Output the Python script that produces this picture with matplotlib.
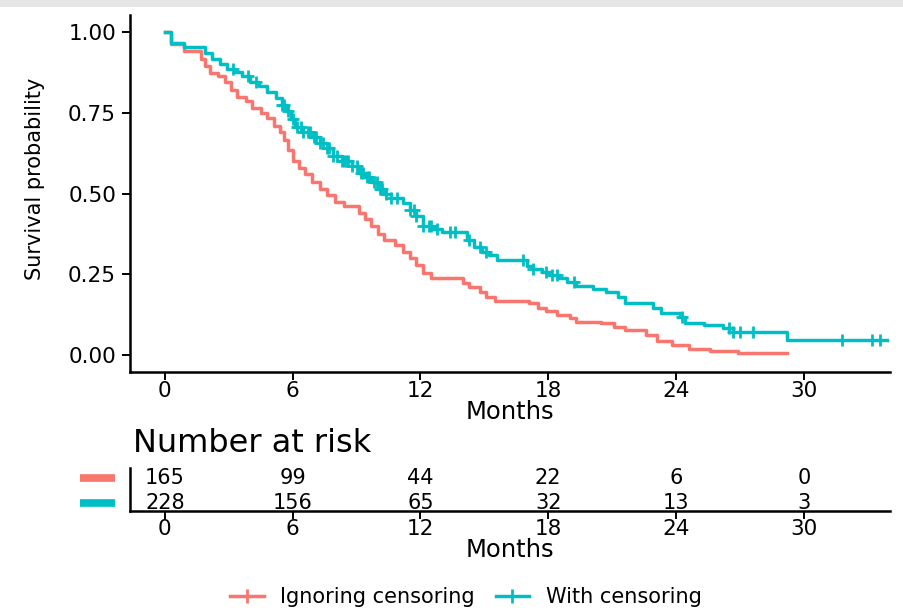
import numpy as np
import matplotlib
matplotlib.use("Agg")
import matplotlib.pyplot as plt
from matplotlib.lines import Line2D
from matplotlib.patches import Rectangle

plt.rcParams['font.family'] = ['DejaVu Sans']

# ---------------- data ----------------
group_names = ["Ignoring censoring", "With censoring"]
group_colors = ["#F8766D", "#00BFC4"]

red_time = [0, 0.3, 0.9, 1.7, 1.9, 2.1, 2.5, 2.8, 3.1, 3.4,
            3.8, 4.1, 4.5, 4.8, 5.1, 5.4, 5.6, 5.8, 6.0, 6.3,
            6.6, 6.9, 7.3, 7.6, 8.0, 8.4, 9.1, 9.4, 9.7, 10.0,
            10.3, 10.8, 11.2, 11.5, 11.8, 12.1, 12.5, 14.0, 14.3, 14.8,
            15.1, 15.5, 17.1, 17.5, 17.9, 18.4, 19.0, 19.3, 20.5, 21.1,
            21.6, 22.6, 23.1, 23.8, 24.6, 25.6, 26.9]
red_surv = [1.0, 0.963, 0.94, 0.915, 0.895, 0.873, 0.864, 0.845, 0.82, 0.80,
            0.785, 0.765, 0.75, 0.735, 0.71, 0.69, 0.665, 0.635, 0.60, 0.58,
            0.56, 0.535, 0.515, 0.494, 0.475, 0.462, 0.44, 0.42, 0.40, 0.375,
            0.355, 0.34, 0.32, 0.30, 0.28, 0.255, 0.238, 0.222, 0.21, 0.195,
            0.18, 0.166, 0.16, 0.145, 0.135, 0.125, 0.115, 0.102, 0.099, 0.088,
            0.077, 0.062, 0.045, 0.030, 0.018, 0.012, 0.006]
red_end = 29.2

teal_time = [0, 0.3, 0.9, 1.9, 2.2, 2.6, 2.9, 3.3, 3.6, 4.0,
             4.4, 4.8, 5.2, 5.5, 5.7, 5.9, 6.1, 6.5, 6.9, 7.3,
             7.6, 7.9, 8.3, 8.8, 9.1, 9.4, 9.7, 10.0, 10.3, 10.6,
             11.2, 11.5, 11.8, 12.1, 12.6, 13.0, 14.2, 14.5, 14.9, 15.2,
             15.6, 17.0, 17.3, 17.7, 18.1, 18.5, 18.9, 19.3, 20.1, 20.7,
             21.3, 21.6, 22.9, 23.3, 24.2, 24.4, 25.3, 26.2, 26.7, 29.2]
teal_surv = [1.0, 0.965, 0.955, 0.935, 0.915, 0.90, 0.886, 0.875, 0.864, 0.845,
             0.833, 0.815, 0.795, 0.775, 0.755, 0.73, 0.705, 0.69, 0.675, 0.655,
             0.64, 0.615, 0.60, 0.585, 0.565, 0.55, 0.535, 0.515, 0.50, 0.485,
             0.47, 0.45, 0.43, 0.40, 0.39, 0.38, 0.355, 0.335, 0.32, 0.31,
             0.295, 0.275, 0.265, 0.256, 0.248, 0.24, 0.225, 0.215, 0.205, 0.194,
             0.179, 0.16, 0.145, 0.13, 0.117, 0.10, 0.093, 0.083, 0.071, 0.046]
teal_end = 33.9
teal_cens = [3.2, 3.9, 4.3, 5.5, 5.6, 5.8, 6.0, 6.2, 6.4, 6.5, 6.7, 6.8, 7.0,
             7.1, 7.3, 7.4, 7.6, 7.7, 7.9, 8.1, 8.3, 8.4, 8.5, 8.6, 8.8, 9.0,
             9.2, 9.3, 9.5, 9.6, 9.8, 9.95, 10.1, 10.2, 10.4, 10.6, 10.9, 11.5,
             11.7, 11.8, 12.1, 12.4, 12.5, 12.8, 13.4, 13.6, 14.3, 14.8, 15.1,
             16.8, 17.3, 17.9, 18.2, 18.4, 19.2, 24.3, 26.5, 26.7, 27.0, 27.6,
             31.8, 33.2, 33.6]

risk_times = [0, 6, 12, 18, 24, 30]
risk_red = [165, 99, 44, 22, 6, 0]
risk_teal = [228, 156, 65, 32, 13, 3]

y_ticks = [0.0, 0.25, 0.5, 0.75, 1.0]
y_tick_labels = ["0.00", "0.25", "0.50", "0.75", "1.00"]

# ---------------- figure ----------------
W, H = 904, 608
fig = plt.figure(figsize=(W / 100, H / 100), dpi=100)
fig.patches.append(Rectangle((0, 1 - 7 / H), 1, 7 / H, transform=fig.transFigure,
                             facecolor="#e6e6e6", edgecolor="none", zorder=0))

XLIM = (-1.64, 34.05)
TICK_FS = 15.5
LW = 2.5
ax = fig.add_axes([130 / W, (H - 372) / H, 760 / W, (372 - 15) / H])
ax.set_xlim(*XLIM)
ax.set_ylim(-0.0525, 1.0525)

def step_xy(t, s, end):
    return list(t) + [end], list(s) + [s[-1]]

x, y = step_xy(red_time, red_surv, red_end)
ax.step(x, y, where="post", color=group_colors[0], lw=LW)
x, y = step_xy(teal_time, teal_surv, teal_end)
ax.step(x, y, where="post", color=group_colors[1], lw=LW)

tt = np.array(teal_time)
cy = [teal_surv[np.searchsorted(tt, c, side="right") - 1] for c in teal_cens]
ax.plot(teal_cens, cy, ls="none", marker="+", ms=9, mew=2.0, color=group_colors[1])

for sp in ["top", "right"]:
    ax.spines[sp].set_visible(False)
for sp in ["left", "bottom"]:
    ax.spines[sp].set_linewidth(1.8)
ax.set_xticks(risk_times)
ax.set_yticks(y_ticks)
ax.set_yticklabels(y_tick_labels)
ax.tick_params(axis="x", length=6, width=1.4, labelsize=TICK_FS, pad=0.5)
ax.tick_params(axis="y", length=6, width=1.4, labelsize=TICK_FS, pad=4)
ax.set_xlabel("Months", fontsize=17.5, labelpad=-1)
ax.set_ylabel("Survival probability", fontsize=15)
ax.yaxis.set_label_coords(-0.112, 0.54)

# ---------------- risk table ----------------
rax = fig.add_axes([130 / W, (H - 511) / H, 760 / W, 43 / H])
rax.set_xlim(*XLIM)
rax.set_ylim(0.68, 2.401)
for sp in ["top", "right"]:
    rax.spines[sp].set_visible(False)
for sp in ["left", "bottom"]:
    rax.spines[sp].set_linewidth(1.8)
rax.set_xticks(risk_times)
rax.set_yticks([])
rax.tick_params(axis="x", length=6, width=1.4, labelsize=TICK_FS, pad=0)
rax.set_xlabel("Months", fontsize=17.5, labelpad=-1)

RISK_FS = 15
for t, n in zip(risk_times, risk_red):
    rax.text(t, 2, str(n), ha="center", va="center", fontsize=RISK_FS)
for t, n in zip(risk_times, risk_teal):
    rax.text(t, 1, str(n), ha="center", va="center", fontsize=RISK_FS)

btrans = matplotlib.transforms.blended_transform_factory(rax.transAxes, rax.transData)
rax.plot([-0.066, -0.02], [2, 2], color=group_colors[0], lw=5.5, transform=btrans,
         clip_on=False, solid_capstyle="butt")
rax.plot([-0.066, -0.02], [1, 1], color=group_colors[1], lw=5.5, transform=btrans,
         clip_on=False, solid_capstyle="butt")

rax.text(0.004, 1.58, "Number at risk", transform=rax.transAxes, ha="left",
         va="center", fontsize=23)

# ---------------- legend ----------------
handles = [Line2D([], [], color=c, lw=LW, marker="+", ms=10, mew=2.0) for c in group_colors]
fig.legend(handles, group_names, loc="center", bbox_to_anchor=(466 / W, 1 - 597 / H),
           ncol=2, frameon=False, fontsize=15, handlelength=1.6, handletextpad=0.8,
           columnspacing=1.0, borderpad=0)

fig.savefig("out.png", dpi=100)
